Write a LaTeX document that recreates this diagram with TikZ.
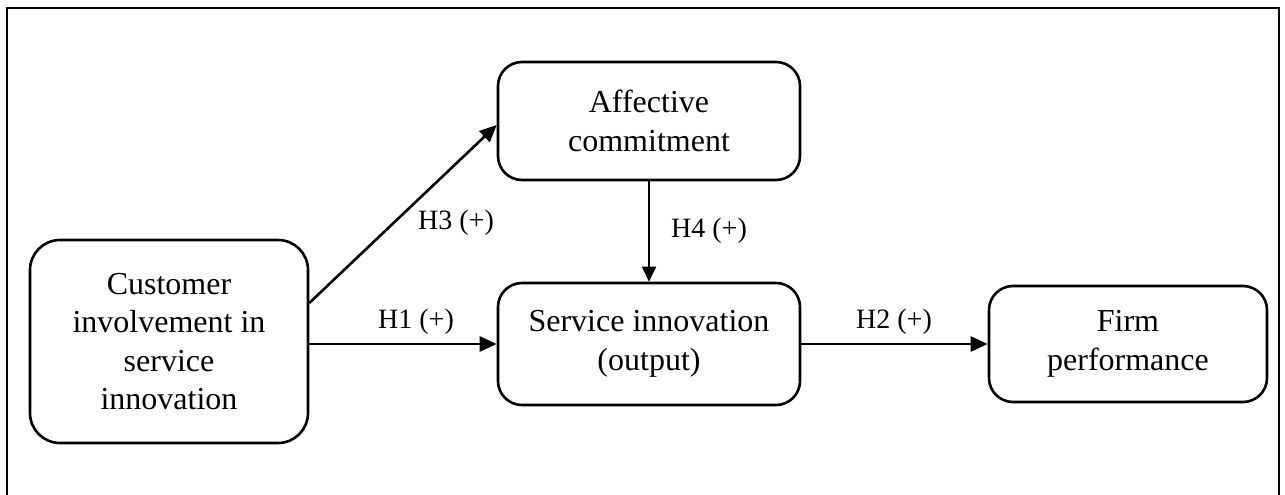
\documentclass[tikz,border=0pt]{standalone}
\usepackage{fontspec}
\setmainfont{Liberation Serif}
\usetikzlibrary{arrows.meta}
\begin{document}
\begin{tikzpicture}[x=1pt,y=-1pt,
  box/.style={draw, line width=2.6pt, rounded corners=24pt, align=center, inner sep=0pt,
    font=\fontsize{32}{38.5}\selectfont},
  conn/.style={line width=2.6pt, -{Triangle[length=17pt,width=15pt]}},
  thinconn/.style={line width=1.8pt, -{Triangle[length=15pt,width=14pt]}},
  lab/.style={font=\fontsize{28}{32}\selectfont, inner sep=0pt}]
\useasboundingbox (0,0) rectangle (1285,495);
\draw[line width=2.4pt] (7,495) -- (7,8) -- (1279,8) -- (1279,495);
\node[box, minimum width=278pt, minimum height=203pt, rounded corners=30pt] (cust) at (169,341.5)
  {Customer\\involvement in\\service\\innovation};
\node[box, minimum width=302pt, minimum height=118pt] (aff) at (649,121)
  {Affective\\commitment};
\node[box, minimum width=302pt, minimum height=122pt] (serv) at (649,344)
  {Service innovation\\(output)};
\node[box, minimum width=278pt, minimum height=116pt] (firm) at (1128,344)
  {Firm\\performance};
\draw[conn] (serv.west -| cust.east) -- (serv.west);
\draw[conn] (serv.east) -- (firm.west);
\draw[conn] ([yshift=38.5pt]cust.east) -- ([yshift=-4pt]aff.west);
\draw[thinconn] (aff.south) -- (serv.north);
\node[lab] (h1) at (416,322) {H1 (+)};
\node[lab] (h2) at (894,322) {H2 (+)};
\node[lab] (h3) at (456,223) {H3 (+)};
\node[lab] (h4) at (709,231) {H4 (+)};
\end{tikzpicture}
\end{document}
